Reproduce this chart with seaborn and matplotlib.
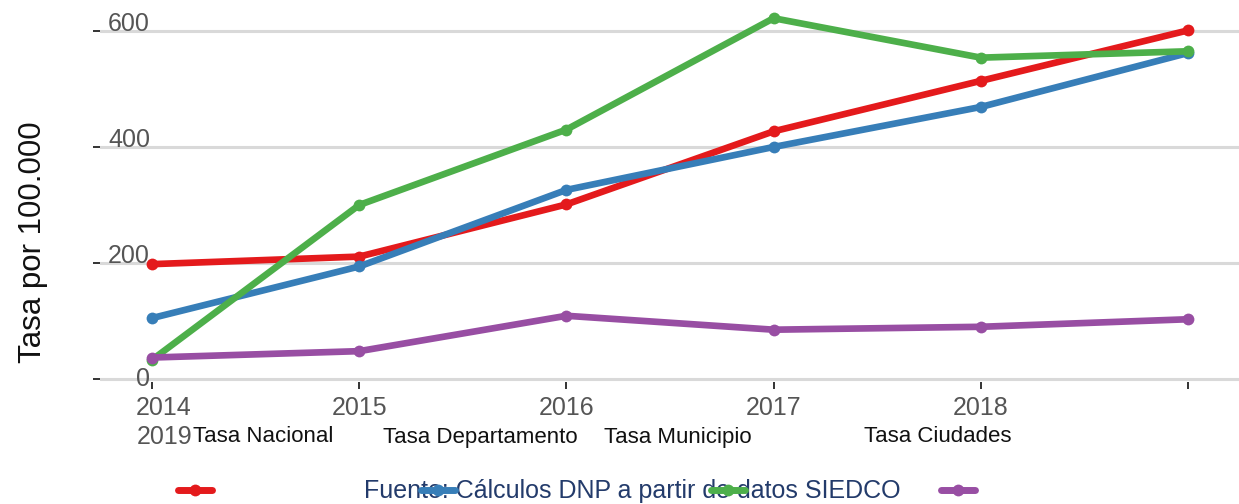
import matplotlib
matplotlib.use("Agg")
import matplotlib.pyplot as plt
from matplotlib.lines import Line2D
from matplotlib.transforms import ScaledTranslation
import seaborn as sns
import pandas as pd

years = [2014, 2015, 2016, 2017, 2018, 2019]
series_names = ["Tasa Nacional", "Tasa Departamento", "Tasa Municipio", "Tasa Ciudades"]
tasa_nacional = [198, 211, 301, 427, 514, 601]
tasa_departamento = [105, 194, 326, 400, 469, 562]
tasa_municipio = [33, 300, 430, 622, 554, 565]
tasa_ciudades = [37, 48, 109, 85, 90, 103]
colors = ["#e41a1c", "#377eb8", "#4daf4a", "#984ea3"]
x_tick_labels = ["2014", "2015", "2016", "2017", "2018", ""]
y_ticks = [0, 200, 400, 600]
y_label = "Tasa por 100.000"
source = "Fuente: Cálculos DNP a partir de datos SIEDCO"

values = [tasa_nacional, tasa_departamento, tasa_municipio, tasa_ciudades]
rows = []
for name, vals in zip(series_names, values):
    for y, v in zip(years, vals):
        rows.append({"year": y, "tasa": v, "serie": name})
df = pd.DataFrame(rows)

sns.set_style("white")
plt.rcParams["font.family"] = ["Liberation Sans", "DejaVu Sans"]

W, H = 1239, 504
fig = plt.figure(figsize=(W / 100, H / 100), dpi=100)
ax = fig.add_axes([100 / W, 1 - 381.9 / H, 1 - 100 / W, 381.9 / H])

palette = dict(zip(series_names, colors))
sns.lineplot(data=df, x="year", y="tasa", hue="serie", hue_order=series_names,
             palette=palette, marker="o", markersize=8.5, markeredgewidth=0,
             linewidth=4.8, legend=False, ax=ax, zorder=3)

ax.set_xlim(2013.749, 2019.246)
ax.set_ylim(-5, 653.4)
for s in ax.spines.values():
    s.set_visible(False)

ax.set_yticks(y_ticks)
ax.set_yticklabels([str(t) for t in y_ticks])
ax.yaxis.grid(True, color="#d9d9d9", linewidth=2.2, zorder=0)
ax.xaxis.grid(False)
ax.set_axisbelow(True)
ax.tick_params(axis="y", length=5, width=1.4, color="#333333", direction="out",
               pad=-41, labelsize=18, labelcolor="#555555", left=True)
for lab in ax.get_yticklabels():
    if lab.get_text() == "0":
        lab.set_va("center")
    else:
        lab.set_va("baseline")

ax.set_xticks(years)
ax.set_xticklabels(x_tick_labels)
ax.tick_params(axis="x", length=5, width=1.4, color="#333333", direction="out",
               pad=5, labelsize=18, labelcolor="#555555", bottom=True)
first = ax.get_xticklabels()[0]
first.set_transform(first.get_transform() + ScaledTranslation(0.12, 0, fig.dpi_scale_trans))

ax.set_xlabel("")
ax.set_ylabel("")
fig.text(33 / W, 1 - 242 / H, y_label, rotation=90, ha="center", va="center",
         fontsize=22.5, color="#111111")

# legend row (labels) and wrapped "2019"
fig.text(137 / W, 1 - 437 / H, "2019", ha="left", va="center", fontsize=18, color="#555555")
label_x = [193, 383, 604, 864]
for name, lx in zip(series_names, label_x):
    fig.text(lx / W, 1 - 437 / H, name, ha="left", va="center", fontsize=16, color="#111111")

# legend handles
handle_cx = [195, 438, 728, 958]
for c, cx in zip(colors, handle_cx):
    xs = [(cx - 17) / W, cx / W, (cx + 17) / W]
    ys = [1 - 490 / H] * 3
    fig.add_artist(Line2D(xs, ys, transform=fig.transFigure, color=c, linewidth=5,
                          marker="o", markersize=8.5, markeredgewidth=0, markevery=[1]))

fig.text(632 / W, 1 - 491 / H, source, ha="center", va="center", fontsize=18,
         color="#233b6b", zorder=0)

fig.savefig("out.png", dpi=100)
